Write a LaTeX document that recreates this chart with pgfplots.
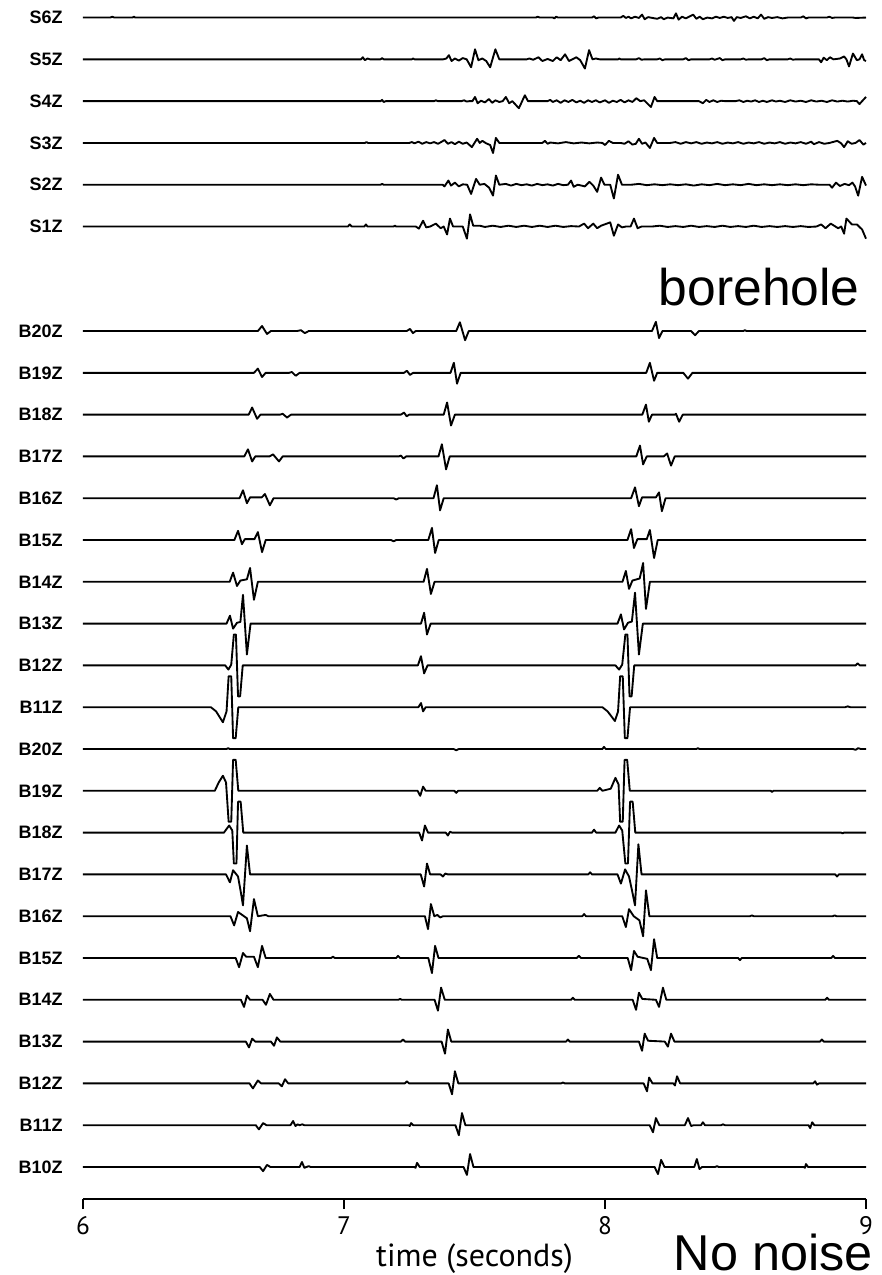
\documentclass[border=0pt]{standalone}
\usepackage{fontspec}
\setmainfont{Liberation Sans}
\newfontfamily\tickfont{PT Sans}
\usepackage{pgfplots}
\pgfplotsset{compat=1.18}

\tikzset{
  lab/.style={anchor=east, inner sep=0pt, xshift=-15pt, font=\bfseries\fontsize{13.5}{14}\selectfont},
}

\begin{document}
\begin{tikzpicture}
\begin{axis}[
    scale only axis,
    width=587.25pt, height=899.25pt,
    xmin=6, xmax=9,
    ymin=23.4, ymax=2892,
    clip=false,
    axis y line=none,
    axis x line*=bottom,
    axis line style={-, line width=1.5pt},
    xtick={6,7,8,9},
    tick align=outside,
    major tick length=7.5pt,
    tick style={black, line width=1pt},
    /pgf/number format/assume math mode=true,
    xticklabel style={font=\tickfont\fontsize{19}{20}\selectfont, yshift=-2pt},
    cycle list={black, solid, line width=1.4pt, line join=round, mark=none\\},
]
% ---- surface traces ----
% S6Z
\addplot coordinates {(6,2850)(6.105,2850)(6.112,2852)(6.12,2850)(6.19,2850)(6.195,2852)(6.2,2850)(7.735,2850)(7.742,2852)(7.75,2850)(7.8,2850)(7.806,2848)(7.812,2852)(7.82,2850)(7.95,2850)(7.958,2853)(7.966,2848)(7.975,2850)(8.06,2850)(8.07,2854)(8.08,2849)(8.09,2852)(8.1,2848)(8.115,2852)(8.13,2849)(8.142,2857)(8.152,2846)(8.165,2851)(8.2,2847)(8.215,2851)(8.225,2846)(8.24,2850)(8.262,2848)(8.272,2860)(8.282,2845)(8.295,2852)(8.31,2848)(8.325,2853)(8.338,2857)(8.35,2847)(8.363,2852)(8.375,2846)(8.392,2850)(8.41,2848)(8.425,2852)(8.44,2849)(8.455,2852)(8.47,2849)(8.485,2851)(8.494,2842)(8.505,2851)(8.52,2849)(8.54,2853)(8.555,2848)(8.57,2852)(8.585,2848)(8.598,2857)(8.61,2847)(8.625,2851)(8.64,2849)(8.66,2851)(8.68,2848)(8.7,2850)(8.75,2850)(8.76,2853)(8.77,2848)(8.78,2850)(8.85,2850)(8.86,2852)(8.87,2849)(8.88,2850)(8.95,2850)(8.96,2849)(9,2850)};
% S5Z
\addplot coordinates {(6,2750)(7.065,2750)(7.072,2755)(7.08,2748)(7.09,2752)(7.1,2750)(7.14,2750)(7.146,2753)(7.152,2750)(7.26,2750)(7.265,2752)(7.27,2750)(7.38,2750)(7.392,2752)(7.402,2760)(7.412,2746)(7.425,2752)(7.44,2747)(7.455,2753)(7.47,2750)(7.487,2731)(7.502,2774)(7.515,2748)(7.53,2752)(7.545,2746)(7.56,2731)(7.58,2774)(7.595,2750)(7.7,2750)(7.71,2752)(7.725,2749)(7.745,2755)(7.76,2746)(7.78,2751)(7.8,2746)(7.815,2755)(7.83,2748)(7.847,2762)(7.862,2746)(7.875,2750)(7.89,2755)(7.905,2748)(7.923,2728)(7.939,2772)(7.952,2750)(7.965,2752)(7.98,2750)(8.05,2750)(8.055,2752)(8.06,2750)(8.12,2750)(8.13,2753)(8.14,2749)(8.15,2750)(8.2,2750)(8.21,2752)(8.22,2748)(8.23,2750)(8.3,2750)(8.31,2753)(8.32,2748)(8.33,2750)(8.4,2750)(8.41,2752)(8.42,2749)(8.44,2753)(8.45,2748)(8.46,2750)(8.52,2750)(8.53,2752)(8.54,2749)(8.55,2750)(8.6,2750)(8.61,2753)(8.62,2748)(8.63,2750)(8.7,2750)(8.71,2752)(8.72,2749)(8.73,2750)(8.82,2750)(8.828,2743)(8.838,2754)(8.85,2748)(8.862,2755)(8.875,2750)(8.9,2752)(8.916,2757)(8.925,2750)(8.935,2733)(8.95,2764)(8.965,2748)(8.975,2750)(8.985,2762)(8.993,2748)(9,2746)};
% S4Z
\addplot coordinates {(6,2650)(7.14,2650)(7.146,2653)(7.152,2648)(7.16,2650)(7.345,2650)(7.352,2652)(7.36,2650)(7.45,2650)(7.46,2652)(7.47,2649)(7.48,2650)(7.492,2650)(7.502,2660)(7.512,2645)(7.525,2651)(7.54,2647)(7.555,2655)(7.568,2646)(7.58,2652)(7.595,2648)(7.608,2650)(7.62,2660)(7.633,2645)(7.645,2650)(7.67,2633)(7.693,2664)(7.705,2650)(7.78,2650)(7.79,2653)(7.8,2648)(7.815,2652)(7.83,2646)(7.845,2652)(7.86,2648)(7.875,2653)(7.89,2647)(7.905,2651)(7.92,2646)(7.935,2652)(7.95,2648)(7.965,2652)(7.98,2647)(8.0,2652)(8.015,2646)(8.03,2651)(8.045,2648)(8.06,2653)(8.075,2647)(8.09,2652)(8.105,2648)(8.12,2657)(8.135,2650)(8.15,2652)(8.176,2636)(8.19,2660)(8.2,2650)(8.36,2650)(8.375,2645)(8.388,2653)(8.4,2648)(8.415,2652)(8.43,2648)(8.445,2651)(8.46,2650)(8.5,2650)(8.515,2652)(8.53,2648)(8.545,2651)(8.56,2649)(8.575,2652)(8.59,2648)(8.605,2651)(8.62,2648)(8.64,2652)(8.655,2649)(8.67,2651)(8.69,2648)(8.71,2652)(8.73,2649)(8.75,2651)(8.77,2648)(8.79,2652)(8.81,2649)(8.83,2651)(8.85,2648)(8.87,2652)(8.89,2649)(8.91,2651)(8.93,2649)(8.95,2651)(8.965,2650)(8.975,2643)(8.988,2652)(9,2660)};
% S3Z
\addplot coordinates {(6,2550)(7.08,2550)(7.086,2552)(7.092,2550)(7.25,2550)(7.26,2552)(7.27,2549)(7.285,2553)(7.3,2548)(7.315,2552)(7.33,2549)(7.345,2552)(7.36,2548)(7.372,2552)(7.385,2557)(7.398,2548)(7.412,2552)(7.425,2547)(7.44,2553)(7.455,2548)(7.47,2551)(7.49,2540)(7.51,2560)(7.52,2550)(7.53,2555)(7.545,2549)(7.56,2545)(7.571,2526)(7.582,2562)(7.595,2550)(7.76,2550)(7.77,2555)(7.78,2548)(7.79,2551)(7.82,2549)(7.85,2552)(7.88,2549)(7.91,2551)(7.94,2549)(7.97,2551)(7.99,2550)(8.0,2545)(8.015,2555)(8.03,2550)(8.06,2550)(8.075,2548)(8.09,2554)(8.105,2546)(8.118,2548)(8.13,2560)(8.142,2548)(8.155,2551)(8.172,2538)(8.188,2562)(8.2,2550)(8.25,2550)(8.27,2552)(8.29,2548)(8.31,2552)(8.33,2549)(8.35,2552)(8.37,2548)(8.39,2551)(8.41,2549)(8.43,2552)(8.45,2548)(8.47,2551)(8.49,2549)(8.51,2552)(8.53,2548)(8.55,2551)(8.57,2549)(8.59,2552)(8.61,2548)(8.63,2551)(8.65,2549)(8.67,2552)(8.69,2548)(8.71,2551)(8.73,2549)(8.75,2552)(8.77,2548)(8.79,2553)(8.8,2547)(8.82,2552)(8.84,2548)(8.86,2550)(8.89,2555)(8.905,2549)(8.916,2540)(8.93,2554)(8.945,2548)(8.96,2550)(8.975,2557)(8.99,2546)(9,2550)};
% S2Z
\addplot coordinates {(6,2450)(7.14,2450)(7.146,2452)(7.152,2450)(7.378,2450)(7.385,2446)(7.4,2460)(7.41,2448)(7.425,2455)(7.44,2446)(7.455,2451)(7.472,2450)(7.487,2428)(7.506,2464)(7.52,2450)(7.538,2452)(7.556,2443)(7.571,2424)(7.582,2472)(7.595,2450)(7.62,2452)(7.64,2448)(7.66,2452)(7.68,2449)(7.7,2451)(7.72,2448)(7.74,2452)(7.76,2449)(7.78,2451)(7.8,2448)(7.82,2452)(7.84,2449)(7.858,2450)(7.87,2460)(7.88,2445)(7.895,2450)(7.91,2448)(7.923,2446)(7.94,2457)(7.955,2448)(7.97,2433)(7.985,2467)(7.998,2450)(8.02,2450)(8.034,2417)(8.05,2474)(8.065,2450)(8.1,2450)(8.13,2452)(8.16,2449)(8.19,2451)(8.22,2449)(8.25,2451)(8.28,2449)(8.31,2451)(8.34,2448)(8.37,2451)(8.4,2449)(8.43,2452)(8.46,2449)(8.49,2451)(8.52,2449)(8.55,2452)(8.58,2449)(8.61,2451)(8.64,2449)(8.67,2451)(8.7,2449)(8.73,2451)(8.76,2449)(8.79,2451)(8.82,2450)(8.86,2450)(8.87,2443)(8.885,2455)(8.9,2447)(8.918,2452)(8.935,2449)(8.948,2455)(8.958,2446)(8.97,2424)(8.985,2469)(9,2448)};
% S1Z
\addplot coordinates {(6,2350)(7.015,2350)(7.022,2355)(7.03,2350)(7.078,2350)(7.084,2355)(7.09,2350)(7.19,2350)(7.195,2352)(7.2,2350)(7.275,2350)(7.287,2345)(7.303,2364)(7.315,2348)(7.33,2350)(7.352,2357)(7.37,2346)(7.382,2350)(7.395,2331)(7.406,2369)(7.418,2350)(7.455,2350)(7.471,2321)(7.483,2379)(7.495,2352)(7.52,2352)(7.54,2349)(7.57,2352)(7.6,2349)(7.63,2352)(7.66,2349)(7.69,2352)(7.72,2349)(7.75,2352)(7.78,2349)(7.81,2352)(7.84,2349)(7.87,2351)(7.9,2350)(7.92,2357)(7.935,2346)(7.955,2357)(7.97,2346)(7.985,2352)(8.02,2360)(8.034,2328)(8.05,2355)(8.065,2348)(8.08,2350)(8.098,2350)(8.111,2369)(8.125,2346)(8.14,2350)(8.18,2350)(8.21,2352)(8.24,2349)(8.27,2351)(8.3,2349)(8.33,2352)(8.36,2349)(8.39,2351)(8.42,2349)(8.45,2352)(8.48,2349)(8.51,2351)(8.54,2349)(8.57,2352)(8.6,2349)(8.63,2351)(8.66,2349)(8.69,2351)(8.72,2349)(8.75,2351)(8.78,2349)(8.81,2350)(8.828,2355)(8.845,2346)(8.865,2357)(8.893,2346)(8.905,2350)(8.916,2333)(8.925,2369)(8.946,2355)(8.965,2355)(8.985,2343)(9,2321)};
% ---- borehole, upper group ----
% B20Z
\addplot coordinates {(6,2100)(6.67,2100)(6.686,2112)(6.705,2093)(6.72,2100)(6.82,2100)(6.835,2102)(6.85,2095)(6.865,2100)(7.24,2100)(7.253,2105)(7.264,2095)(7.275,2100)(7.43,2100)(7.444,2121)(7.464,2078)(7.478,2100)(8.18,2100)(8.195,2122)(8.207,2083)(8.22,2100)(8.33,2100)(8.345,2090)(8.36,2100)(8.53,2100)(8.536,2102)(8.542,2100)(9,2100)};
% B19Z
\addplot coordinates {(6,2000)(6.655,2000)(6.67,2010)(6.686,1990)(6.7,2000)(6.79,2000)(6.8,2002)(6.815,1993)(6.83,2000)(7.23,2000)(7.241,2005)(7.253,1995)(7.265,2000)(7.408,2000)(7.421,2024)(7.433,1974)(7.447,2000)(8.158,2000)(8.172,2024)(8.188,1981)(8.2,2000)(8.3,2000)(8.318,1986)(8.335,2000)(9,2000)};
% B18Z
\addplot coordinates {(6,1900)(6.635,1900)(6.648,1917)(6.667,1890)(6.68,1900)(6.755,1900)(6.765,1902)(6.782,1893)(6.797,1900)(7.218,1900)(7.23,1905)(7.24,1896)(7.25,1900)(7.382,1900)(7.395,1929)(7.41,1874)(7.425,1900)(8.143,1900)(8.157,1924)(8.168,1883)(8.18,1900)(8.268,1900)(8.272,1902)(8.284,1883)(8.298,1900)(9,1900)};
% B17Z
\addplot coordinates {(6,1800)(6.618,1800)(6.632,1817)(6.648,1788)(6.66,1800)(6.715,1800)(6.728,1805)(6.751,1788)(6.765,1800)(7.21,1800)(7.218,1802)(7.228,1795)(7.238,1800)(7.362,1800)(7.375,1829)(7.391,1769)(7.405,1800)(8.12,1800)(8.134,1826)(8.146,1781)(8.16,1800)(8.225,1800)(8.238,1807)(8.253,1778)(8.267,1800)(9,1800)};
% B16Z
\addplot coordinates {(6,1700)(6.6,1700)(6.613,1719)(6.628,1688)(6.64,1702)(6.685,1702)(6.697,1710)(6.716,1683)(6.73,1700)(7.19,1700)(7.2,1697)(7.21,1700)(7.343,1700)(7.356,1731)(7.368,1671)(7.382,1700)(8.1,1700)(8.115,1726)(8.13,1681)(8.142,1702)(8.195,1702)(8.207,1714)(8.218,1669)(8.232,1700)(9,1700)};
% B15Z
\addplot coordinates {(6,1600)(6.58,1600)(6.594,1622)(6.609,1590)(6.62,1602)(6.657,1602)(6.67,1619)(6.686,1571)(6.7,1600)(7.18,1600)(7.19,1597)(7.2,1600)(7.323,1600)(7.337,1629)(7.349,1569)(7.363,1600)(8.086,1600)(8.1,1626)(8.111,1581)(8.124,1602)(8.16,1602)(8.172,1624)(8.188,1557)(8.202,1600)(9,1600)};
% B14Z
\addplot coordinates {(6,1500)(6.562,1500)(6.575,1522)(6.59,1490)(6.603,1503)(6.628,1506)(6.64,1533)(6.655,1457)(6.67,1500)(7.305,1500)(7.318,1531)(7.333,1471)(7.347,1500)(8.067,1500)(8.08,1526)(8.092,1483)(8.105,1503)(8.133,1508)(8.146,1545)(8.157,1435)(8.172,1500)(9,1500)};
% B13Z
\addplot coordinates {(6,1400)(6.55,1400)(6.563,1419)(6.575,1388)(6.59,1402)(6.603,1404)(6.613,1469)(6.628,1326)(6.642,1400)(7.295,1400)(7.307,1426)(7.318,1374)(7.332,1400)(8.048,1400)(8.061,1422)(8.073,1386)(8.088,1402)(8.103,1405)(8.115,1474)(8.13,1326)(8.145,1400)(9,1400)};
% B12Z
\addplot coordinates {(6,1300)(6.545,1300)(6.557,1290)(6.568,1302)(6.578,1374)(6.586,1374)(6.594,1226)(6.602,1226)(6.612,1300)(7.283,1300)(7.295,1322)(7.307,1281)(7.32,1300)(8.04,1300)(8.054,1290)(8.066,1302)(8.078,1374)(8.086,1374)(8.094,1226)(8.102,1226)(8.112,1300)(8.96,1300)(8.968,1305)(8.976,1300)(9,1300)};
% B11Z
\addplot coordinates {(6,1200)(6.49,1200)(6.51,1190)(6.536,1164)(6.55,1190)(6.558,1274)(6.568,1274)(6.575,1126)(6.585,1126)(6.595,1200)(7.285,1200)(7.295,1210)(7.303,1190)(7.313,1200)(7.99,1200)(8.01,1190)(8.038,1167)(8.05,1190)(8.058,1274)(8.068,1274)(8.076,1126)(8.086,1126)(8.096,1200)(8.92,1200)(8.93,1202)(8.94,1200)(9,1200)};
% ---- borehole, lower group ----
% B20Z
\addplot coordinates {(6,1100)(6.55,1100)(6.556,1102)(6.562,1100)(7.42,1100)(7.43,1097)(7.44,1100)(7.99,1100)(7.996,1105)(8.003,1100)(8.35,1100)(8.356,1102)(8.362,1100)(8.95,1100)(8.96,1098)(8.97,1102)(8.98,1100)(9,1100)};
% B19Z
\addplot coordinates {(6,1000)(6.505,1000)(6.52,1020)(6.536,1036)(6.548,1020)(6.558,926)(6.568,926)(6.575,1074)(6.585,1074)(6.595,1000)(7.282,1000)(7.292,988)(7.303,1010)(7.313,1000)(7.423,1000)(7.43,995)(7.437,1000)(7.97,1000)(7.98,1007)(7.99,1000)(8.022,1005)(8.04,1031)(8.052,1015)(8.058,926)(8.068,926)(8.075,1074)(8.085,1074)(8.095,1000)(8.635,1000)(8.64,997)(8.645,1000)(9,1000)};
% B18Z
\addplot coordinates {(6,900)(6.54,900)(6.56,917)(6.572,905)(6.578,826)(6.588,826)(6.594,974)(6.604,974)(6.614,900)(7.288,900)(7.299,881)(7.31,917)(7.322,900)(7.39,900)(7.398,893)(7.406,902)(7.414,900)(7.95,900)(7.958,907)(7.966,900)(8.04,900)(8.054,917)(8.066,905)(8.078,826)(8.088,826)(8.096,974)(8.106,974)(8.116,900)(8.905,900)(8.91,898)(8.915,900)(9,900)};
% B17Z
\addplot coordinates {(6,800)(6.548,800)(6.563,781)(6.575,810)(6.594,795)(6.604,760)(6.613,726)(6.628,869)(6.64,800)(7.294,800)(7.307,771)(7.318,826)(7.33,800)(7.37,800)(7.379,795)(7.388,802)(7.398,800)(7.936,800)(7.943,805)(7.95,800)(8.048,800)(8.061,778)(8.077,812)(8.092,795)(8.104,760)(8.115,726)(8.128,872)(8.14,800)(8.882,800)(8.889,795)(8.896,800)(9,800)};
% B16Z
\addplot coordinates {(6,700)(6.565,700)(6.579,678)(6.594,710)(6.61,703)(6.628,695)(6.64,664)(6.655,741)(6.67,700)(6.7,703)(6.71,700)(7.31,700)(7.322,669)(7.333,729)(7.346,700)(7.358,703)(7.368,697)(7.38,700)(7.913,700)(7.92,705)(7.927,700)(8.066,700)(8.08,674)(8.092,717)(8.11,700)(8.132,690)(8.146,652)(8.157,762)(8.17,700)(8.556,700)(8.563,702)(8.57,700)(8.873,700)(8.88,702)(8.887,700)(9,700)};
% B15Z
\addplot coordinates {(6,600)(6.585,600)(6.598,578)(6.613,612)(6.625,603)(6.655,603)(6.67,578)(6.686,629)(6.7,600)(6.95,600)(6.958,603)(6.965,600)(7.2,600)(7.207,605)(7.215,600)(7.323,600)(7.337,564)(7.349,629)(7.362,600)(7.892,600)(7.9,605)(7.908,600)(8.087,600)(8.1,571)(8.111,617)(8.125,603)(8.162,598)(8.176,571)(8.188,645)(8.2,600)(8.51,600)(8.517,595)(8.524,600)(8.867,600)(8.874,605)(8.881,600)(9,600)};
% B14Z
\addplot coordinates {(6,500)(6.605,500)(6.617,483)(6.628,510)(6.64,500)(6.688,500)(6.701,488)(6.716,514)(6.73,500)(7.208,500)(7.215,502)(7.222,500)(7.347,500)(7.36,474)(7.372,529)(7.386,500)(7.87,500)(7.877,505)(7.884,500)(8.106,500)(8.119,476)(8.13,517)(8.143,502)(8.195,500)(8.207,483)(8.222,529)(8.235,500)(8.844,500)(8.851,505)(8.858,500)(9,500)};
% B13Z
\addplot coordinates {(6,400)(6.624,400)(6.636,386)(6.648,407)(6.66,400)(6.72,400)(6.732,390)(6.743,410)(6.756,400)(7.218,400)(7.226,405)(7.234,400)(7.374,400)(7.387,371)(7.398,429)(7.411,400)(7.851,400)(7.858,405)(7.865,400)(8.13,400)(8.142,378)(8.152,419)(8.165,402)(8.229,400)(8.241,388)(8.253,419)(8.266,400)(8.824,400)(8.831,405)(8.838,400)(9,400)};
% B12Z
\addplot coordinates {(6,300)(6.638,300)(6.651,288)(6.67,307)(6.682,300)(6.75,300)(6.762,293)(6.774,310)(6.786,300)(7.233,300)(7.241,305)(7.249,300)(7.401,300)(7.414,274)(7.425,329)(7.438,300)(7.832,300)(7.839,302)(7.846,300)(8.148,300)(8.161,281)(8.169,314)(8.182,300)(8.262,300)(8.268,295)(8.276,317)(8.288,300)(8.798,300)(8.805,305)(8.812,297)(8.82,300)(9,300)};
% B11Z
\addplot coordinates {(6,200)(6.662,200)(6.674,190)(6.69,205)(6.703,200)(6.795,200)(6.805,210)(6.814,198)(6.822,202)(6.83,200)(6.84,202)(6.848,200)(7.248,200)(7.252,198)(7.257,205)(7.265,200)(7.427,200)(7.44,176)(7.452,229)(7.465,200)(8.171,200)(8.184,183)(8.195,217)(8.208,200)(8.306,200)(8.318,217)(8.33,198)(8.34,200)(8.368,200)(8.375,207)(8.383,200)(8.445,200)(8.452,202)(8.46,200)(8.78,200)(8.786,193)(8.794,207)(8.802,200)(9,200)};
% B10Z
\addplot coordinates {(6,100)(6.677,100)(6.69,90)(6.705,105)(6.718,100)(6.83,100)(6.839,112)(6.848,98)(6.856,100)(6.865,102)(6.872,100)(7.27,100)(7.274,98)(7.28,110)(7.29,100)(7.458,100)(7.471,81)(7.483,131)(7.496,100)(8.19,100)(8.203,83)(8.215,117)(8.228,100)(8.342,100)(8.352,119)(8.362,95)(8.372,100)(8.422,100)(8.429,102)(8.436,100)(8.762,100)(8.766,98)(8.77,107)(8.778,100)(9,100)};

% trace names
\node[lab] at (axis cs:6,2850) {S6Z};
\node[lab] at (axis cs:6,2750) {S5Z};
\node[lab] at (axis cs:6,2650) {S4Z};
\node[lab] at (axis cs:6,2550) {S3Z};
\node[lab] at (axis cs:6,2450) {S2Z};
\node[lab] at (axis cs:6,2350) {S1Z};
\node[lab] at (axis cs:6,2100) {B20Z};
\node[lab] at (axis cs:6,2000) {B19Z};
\node[lab] at (axis cs:6,1900) {B18Z};
\node[lab] at (axis cs:6,1800) {B17Z};
\node[lab] at (axis cs:6,1700) {B16Z};
\node[lab] at (axis cs:6,1600) {B15Z};
\node[lab] at (axis cs:6,1500) {B14Z};
\node[lab] at (axis cs:6,1400) {B13Z};
\node[lab] at (axis cs:6,1300) {B12Z};
\node[lab] at (axis cs:6,1200) {B11Z};
\node[lab] at (axis cs:6,1100) {B20Z};
\node[lab] at (axis cs:6,1000) {B19Z};
\node[lab] at (axis cs:6,900) {B18Z};
\node[lab] at (axis cs:6,800) {B17Z};
\node[lab] at (axis cs:6,700) {B16Z};
\node[lab] at (axis cs:6,600) {B15Z};
\node[lab] at (axis cs:6,500) {B14Z};
\node[lab] at (axis cs:6,400) {B13Z};
\node[lab] at (axis cs:6,300) {B12Z};
\node[lab] at (axis cs:6,200) {B11Z};
\node[lab] at (axis cs:6,100) {B10Z};

\node[anchor=base east, inner sep=0pt, font=\fontsize{38.7}{40}\selectfont] at (axis cs:8.977,2162) {borehole};
\node[anchor=base west, inner sep=0pt, font=\fontsize{37.8}{40}\selectfont] at (axis cs:8.262,-148) {No noise};
\node[anchor=base, inner sep=0pt, font=\tickfont\fontsize{24}{26}\selectfont] at (axis cs:7.5,-137) {time (seconds)};

\coordinate (bl) at (rel axis cs:0,0);
\coordinate (tr) at (rel axis cs:1,1);
\end{axis}
\pgfresetboundingbox
\path ([xshift=-62.25pt,yshift=-57pt]bl) rectangle ([xshift=12pt]tr);
\end{tikzpicture}
\end{document}
